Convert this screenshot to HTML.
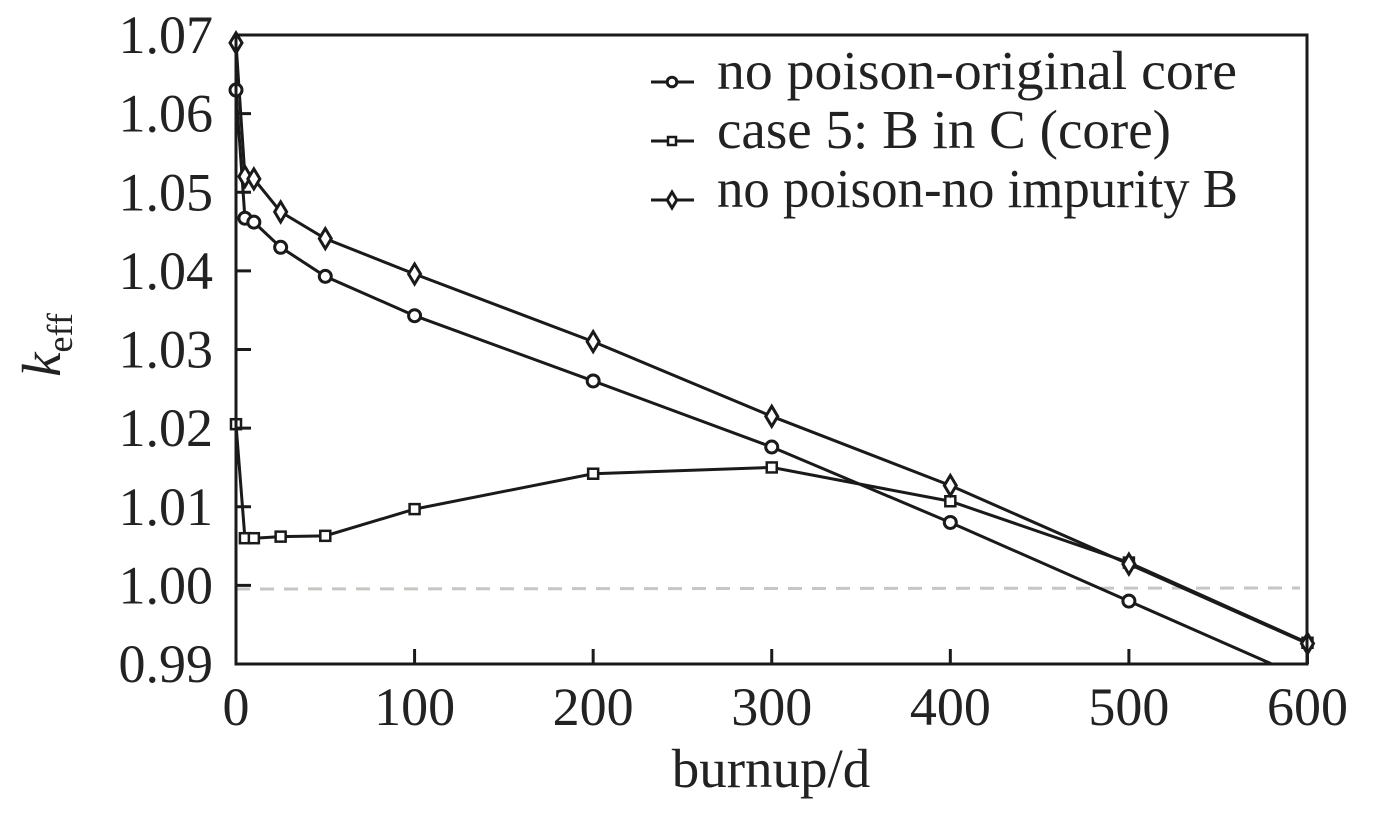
<!DOCTYPE html>
<html><head><meta charset="utf-8"><style>
html,body{margin:0;padding:0;background:#fff;}
svg{display:block;font-family:"Liberation Serif",serif;}
</style></head><body>
<svg id="s" width="1378" height="813" viewBox="0 0 1378 813" xmlns="http://www.w3.org/2000/svg">
<defs><clipPath id="c"><rect x="236" y="35" width="1071" height="629"/></clipPath></defs>
<rect width="1378" height="813" fill="#fff"/>
<line x1="236" y1="589" x2="1300" y2="588" stroke="#c8c6c0" stroke-width="3" stroke-dasharray="14,10"/>
<g id="series" clip-path="url(#c)" fill="none" stroke="#1a1a1a" stroke-width="3"></g>
<g id="marks" fill="none" stroke="#1a1a1a" stroke-width="3"></g>
<rect x="236" y="35" width="1071" height="629" fill="none" stroke="#1a1a1a" stroke-width="3"/>
<g id="ticks" stroke="#1a1a1a" stroke-width="3"></g>
<g font-size="54" fill="#222" text-anchor="end" id="ylab"></g>
<g font-size="54" fill="#222" text-anchor="middle" id="xlab"></g>
<text x="771" y="787" font-size="55" fill="#222" text-anchor="middle">burnup/d</text>
<text transform="translate(60,345) rotate(-90)" font-size="55" fill="#222" text-anchor="middle"><tspan font-style="italic">k</tspan><tspan font-size="36" dy="12">eff</tspan></text>
<g font-size="55" fill="#222" id="leg">
<text x="717" y="89" textLength="520" lengthAdjust="spacingAndGlyphs">no poison-original core</text>
<text x="717" y="148">case 5: B in C (core)</text>
<text x="717" y="207">no poison-no impurity B</text>
</g>
</svg>
<script>
var NS="http://www.w3.org/2000/svg";
function X(d){return 236+d*1.7858;}
function Y(v){return 664-(v-0.99)*7862.5;}
function el(t,a,p){var e=document.createElementNS(NS,t);for(var k in a)e.setAttribute(k,a[k]);document.getElementById(p).appendChild(e);return e;}
var xs=[0,5,10,25,50,100,200,300,400,500,600];
var circ=[1.063,1.0467,1.0462,1.043,1.0393,1.0343,1.026,1.0176,1.008,0.998,0.988];
var sq=[1.0205,1.006,1.006,1.0062,1.0063,1.0097,1.0142,1.015,1.0107,1.0029,0.9927];
var dia=[1.069,1.052,1.0517,1.0475,1.0441,1.0396,1.031,1.0215,1.0127,1.0027,0.9926];
function series(v,m){
 var pts=xs.map(function(d,i){return X(d)+","+Y(v[i]);}).join(" ");
 el("polyline",{points:pts},"series");
 xs.forEach(function(d,i){var x=X(d),y=Y(v[i]);if(y>668)return;marker(m,x,y,"marks",1);});
}
function marker(m,x,y,p,s){
 if(m=="c")el("circle",{cx:x,cy:y,r:6*s,fill:"#fff"},p);
 else if(m=="s")el("rect",{x:x-5*s,y:y-5*s,width:10*s,height:10*s,fill:"#fff","stroke-width":2.5},p);
 else el("polygon",{points:(x)+","+(y-10*s)+" "+(x+6*s)+","+y+" "+x+","+(y+10*s)+" "+(x-6*s)+","+y,fill:"#fff"},p);
}
series(circ,"c");series(sq,"s");series(dia,"d");
[[82,"c"],[141,"s"],[200,"d"]].forEach(function(a){
 el("line",{x1:651,y1:a[0],x2:694,y2:a[0]},"marks");marker(a[1],672,a[0],"marks",0.8);
});
for(var i=0;i<=8;i++){var v=0.99+i*0.01,y=Y(v);
 el("line",{x1:236,y1:y,x2:251,y2:y},"ticks");
 var t=el("text",{x:213,y:y+18},"ylab");t.textContent=v.toFixed(2);}
for(var d=0;d<=600;d+=100){var x=X(d);
 el("line",{x1:x,y1:664,x2:x,y2:649},"ticks");
 var t=el("text",{x:x,y:725},"xlab");t.textContent=d;}
var g=document.getElementById("leg").children;
g[1].setAttribute("textLength","454");g[1].setAttribute("lengthAdjust","spacingAndGlyphs");
g[2].setAttribute("textLength","521");g[2].setAttribute("lengthAdjust","spacingAndGlyphs");
</script>
</body></html>
